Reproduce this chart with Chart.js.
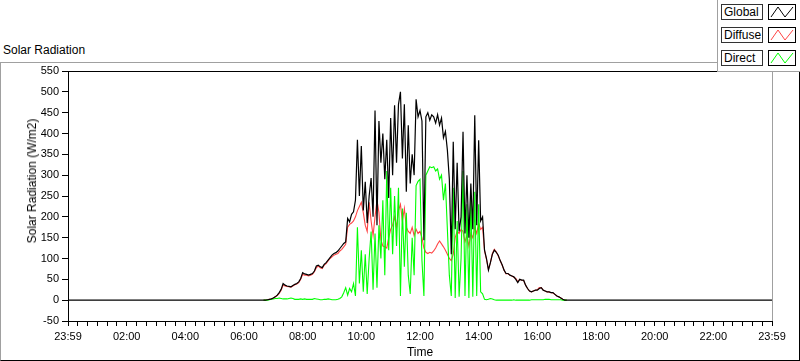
<!DOCTYPE html>
<html>
<head>
<meta charset="utf-8">
<script src="https://cdn.jsdelivr.net/npm/chart.js@4"></script>
<style>
    body { margin: 0; background: #fff; font-family: 'Liberation Sans', Arial, sans-serif; }
    #wrap { position: relative; width: 800px; height: 361px; overflow: hidden; }
    #panel { position: absolute; left: 0; top: 62px; width: 800px; height: 299px; box-sizing: border-box;
             border-left: 1px solid #a0a0a0; border-top: 1px solid #a0a0a0;
             border-right: 1px solid #000; border-bottom: 1px solid #000; }
    #chart { position: absolute; left: 0; top: 0; }
    #title { position: absolute; left: 3px; top: 43px; font-size: 12px; line-height: 15px; color: #000; }
    #ytitle { position: absolute; left: 32px; top: 181px; font-size: 12px; color: #000; white-space: nowrap;
              transform: translate(-50%, -50%) rotate(-90deg); }
    #legend { position: absolute; left: 717px; top: 0; width: 83px; height: 72px; box-sizing: border-box;
              background: #fff; border-left: 1px solid #a0a0a0; border-bottom: 1px solid #a0a0a0; }
    .lbl { position: absolute; left: 3px; width: 42px; height: 16px; box-sizing: border-box; border: 1px solid #333;
           font-size: 12px; line-height: 14px; padding-left: 2px; color: #000; background: #fff; }
    .smp { position: absolute; left: 50px; width: 28px; height: 16px; box-sizing: border-box; border: 1px solid #000; background: #fff; }
    .smp svg { display: block; }
</style>
</head>
<body>
<div id="wrap">
    <div id="panel"></div>
    <div id="title">Solar Radiation</div>
    <canvas id="chart" width="800" height="361"></canvas>
    <div id="ytitle">Solar Radiation (W/m2)</div>
    <div id="legend"></div>
</div>
<script>
// Readings every 4 minutes, starting 06:40 (minutes after midnight)
const dayStart = 400;
const stepMin = 4;

const globalVals = [
    0, 0, 1, 2, 3, 5, 8, 12, 18, 26,
    40, 36, 34, 33, 32, 35, 38, 40, 44, 52,
    66, 63, 62, 60, 62, 64, 70, 82, 84, 80,
    78, 86, 90, 96, 102, 108, 112, 114, 118, 124,
    130, 136, 140, 196, 188, 206, 212, 240, 385, 250,
    370, 215, 284, 185, 250, 293, 200, 455, 180, 430,
    330, 400, 290, 385, 245, 437, 300, 468, 330, 470,
    500, 340, 470, 260, 420, 280, 350, 300, 482, 440,
    455, 430, 144, 440, 450, 432, 445, 440, 425, 445,
    420, 437, 390, 405, 360, 290, 110, 380, 170, 330,
    165, 200, 404, 160, 300, 150, 280, 170, 444, 180,
    384, 190, 200, 120, 100, 72, 90, 110, 120, 115,
    108, 95, 85, 72, 64, 64, 60, 58, 56, 50,
    42, 50, 48, 48, 36, 28, 22, 20, 22, 24,
    24, 28, 30, 24, 22, 20, 20, 18, 18, 14,
    10, 8, 5, 2, 0, 0
];

const diffuseVals = [
    0, 0, 1, 2, 3, 5, 8, 11, 16, 24,
    36, 34, 33, 32, 31, 34, 37, 39, 42, 50,
    62, 60, 60, 58, 60, 62, 68, 78, 82, 78,
    76, 84, 88, 94, 100, 104, 108, 110, 112, 118,
    122, 128, 134, 175, 182, 185, 190, 200, 215, 225,
    235, 210, 180, 165, 235, 190, 155, 200, 240, 210,
    145, 130, 128, 125, 150, 170, 180, 200, 175, 215,
    230, 190, 220, 175, 165, 160, 175, 155, 170, 160,
    165, 150, 125, 115, 112, 115, 113, 118, 125, 135,
    142, 135, 128, 120, 110, 100, 95, 110, 150, 165,
    160, 170, 165, 140, 155, 130, 160, 150, 175, 160,
    185, 170, 175, 118, 98, 74, 90, 112, 122, 116,
    106, 95, 84, 72, 63, 64, 60, 58, 55, 52,
    44, 50, 48, 47, 36, 28, 22, 20, 22, 24,
    25, 30, 30, 24, 22, 20, 20, 18, 17, 14,
    10, 8, 5, 2, 0, 0
];

const directVals = [
    0, 0, 0, 1, 2, 3, 4, 4, 5, 4,
    3, 3, 3, 4, 5, 4, 2, 2, 2, 3,
    2, 3, 2, 2, 2, 2, 4, 3, 2, 1,
    1, 2, 2, 3, 2, 1, 1, 1, 2, 4,
    8, 18, 30, 12, 28, 20, 40, 10, 175, 40,
    120, 20, 110, 15, 100, 165, 25, 160, 30, 180,
    100, 240, 60, 310, 120, 270, 110, 250, 130, 270,
    10, 220, 80, 210, 60, 15, 150, 60, 275, 285,
    290, 95, 10, 300, 310, 320, 318, 320, 310, 315,
    290, 300, 240, 280, 170, 60, 10, 270, 5, 190,
    8, 100, 310, 10, 230, 5, 250, 8, 260, 10,
    230, 20, 15, 2, 1, 2, 4, 3, 1, 0,
    0, 0, 0, 0, 0, 0, 0, 0, 1, 0,
    0, 0, 0, 0, 0, 0, 0, 1, 1, 1,
    1, 1, 1, 1, 2, 2, 2, 1, 1, 1,
    1, 1, 1, 0, 0, 0
];

// night readings of the global sensor (start and end of the day)
const nightTimes = [0, 1440];
const nightVals = [0, 0];

const yTicks = { min: -50, max: 550, step: 50 };

const seriesNames = ['Global', 'Diffuse', 'Direct'];
const seriesColors = ['#000000', '#ff4545', '#00ff00'];

function toPoints(vals) {
    return vals.map((v, i) => ({ x: dayStart + i * stepMin, y: v }));
}

function timeLabel(v) {
    if (v % 120 !== 0) return '';
    if (v === 0 || v === 1440) return '23:59';
    return String(v / 60).padStart(2, '0') + ':00';
}

// legend boxes, LabVIEW style
const legend = document.getElementById('legend');
seriesNames.forEach((name, i) => {
    const top = 4 + i * 23;
    legend.insertAdjacentHTML('beforeend',
        `<div class="lbl" style="top:${top}px">${name}</div>` +
        `<div class="smp" style="top:${top}px"><svg width="26" height="14">` +
        `<polyline points="2,12 9,2 16,12 24,2" fill="none" stroke="${seriesColors[i]}" stroke-width="1"/></svg></div>`);
});

const framePlugin = {
    id: 'frame',
    afterDatasetsDraw(chart) {
        const { ctx, chartArea: a } = chart;
        ctx.save();
        ctx.lineWidth = 1;
        ctx.strokeStyle = '#000';
        ctx.beginPath();
        ctx.moveTo(a.left, a.top + 0.5);
        ctx.lineTo(a.right, a.top + 0.5);
        ctx.stroke();
        ctx.strokeStyle = '#a0a0a0';
        ctx.beginPath();
        ctx.moveTo(a.right + 0.5, a.top);
        ctx.lineTo(a.right + 0.5, a.bottom);
        ctx.stroke();
        ctx.restore();
    }
};

Chart.defaults.font.family = "'Liberation Sans', Arial, sans-serif";

new Chart(document.getElementById('chart'), {
    type: 'line',
    data: {
        datasets: [{
            label: seriesNames[0],
            data: [{ x: nightTimes[0], y: nightVals[0] }, ...toPoints(globalVals), { x: nightTimes[1], y: nightVals[1] }],
            borderColor: seriesColors[0],
            borderWidth: 1.2,
            pointRadius: 0,
            order: 0
        }, {
            label: seriesNames[1],
            data: toPoints(diffuseVals),
            borderColor: seriesColors[1],
            borderWidth: 1.1,
            pointRadius: 0,
            order: 2
        }, {
            label: seriesNames[2],
            data: toPoints(directVals),
            borderColor: seriesColors[2],
            borderWidth: 1.1,
            pointRadius: 0,
            order: 1
        }]
    },
    options: {
        responsive: false,
        animation: false,
        layout: { padding: { top: 71, right: 28, left: 0, bottom: 0 } },
        plugins: {
            legend: { display: false },
            tooltip: { enabled: false }
        },
        scales: {
            x: {
                type: 'linear',
                min: 0,
                max: 1440,
                ticks: {
                    stepSize: 20,
                    autoSkip: false,
                    maxRotation: 0,
                    color: '#000',
                    font: { size: 11 },
                    padding: 4,
                    callback: timeLabel
                },
                grid: { drawOnChartArea: false, tickLength: 5, color: '#000' },
                border: { color: '#000' },
                title: { display: true, text: 'Time', color: '#000', font: { size: 12 }, padding: { top: 0, bottom: 1 } },
                afterFit(scale) { scale.height = 40; }
            },
            y: {
                min: yTicks.min,
                max: yTicks.max,
                ticks: { stepSize: yTicks.step, color: '#000', font: { size: 11 }, padding: 3 },
                grid: { drawOnChartArea: false, tickLength: 6, color: '#000' },
                border: { color: '#000' },
                afterFit(scale) { scale.width = 68; }
            }
        }
    },
    plugins: [framePlugin]
});
</script>
</body>
</html>
